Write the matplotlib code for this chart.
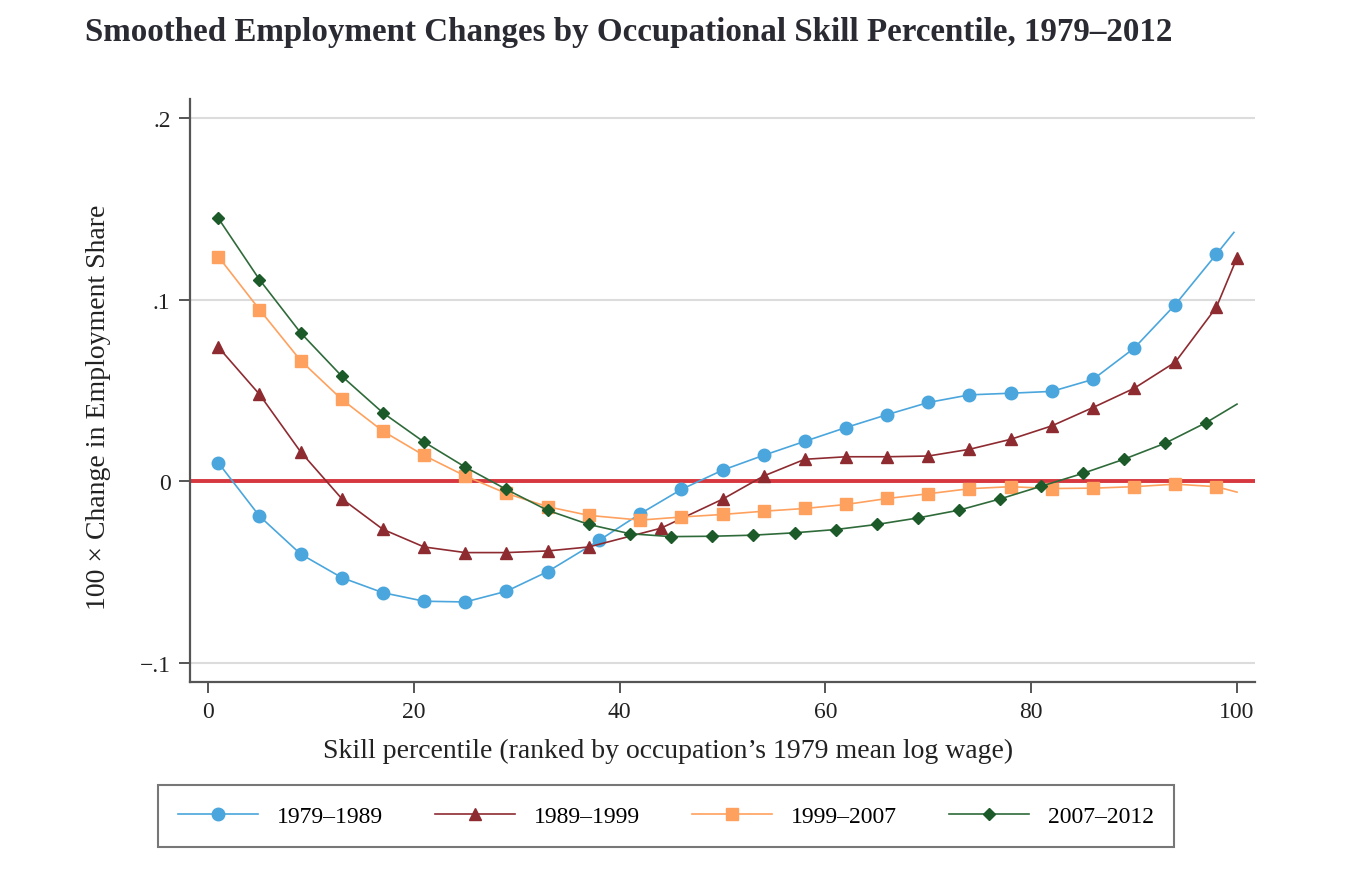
import numpy as np
import matplotlib
matplotlib.use('Agg')
from matplotlib import pyplot as plt

## data ##
x_7989 = [1, 5, 9, 13, 17, 21, 25, 29, 33, 38, 42, 46, 50, 54, 58, 62, 66, 70, 74, 78, 82, 86, 90, 94, 98, 99.7]
y_7989 = [0.0101, -0.0193, -0.0402, -0.0532, -0.0615, -0.0662, -0.0666, -0.0607, -0.0499,
          -0.0327, -0.0180, -0.0046, 0.0060, 0.0142, 0.0219, 0.0295, 0.0366, 0.0433, 0.0475,
          0.0484, 0.0494, 0.0560, 0.0732, 0.0972, 0.1250, 0.1370]

x_8999 = [1, 5, 9, 13, 17, 21, 25, 29, 33, 37, 44, 50, 54, 58, 62, 66, 70, 74, 78, 82, 86, 90, 94, 98, 100]
y_8999 = [0.0738, 0.0478, 0.0161, -0.0097, -0.0266, -0.0363, -0.0394, -0.0394, -0.0385, -0.0363,
          -0.0260, -0.0100, 0.0028, 0.0120, 0.0134, 0.0134, 0.0138, 0.0175, 0.0230, 0.0304,
          0.0405, 0.0511, 0.0655, 0.0958, 0.1230]

x_9907 = [1, 5, 9, 13, 17, 21, 25, 29, 33, 37, 42, 46, 50, 54, 58, 62, 66, 70, 74, 78, 82, 86, 90, 94, 98, 100]
y_9907 = [0.1237, 0.0945, 0.0664, 0.0450, 0.0275, 0.0141, 0.0028, -0.0068, -0.0141, -0.0189,
          -0.0215, -0.0198, -0.0184, -0.0166, -0.0151, -0.0129, -0.0096, -0.0070, -0.0042,
          -0.0031, -0.0041, -0.0039, -0.0031, -0.0017, -0.0031, -0.0061]

x_0712 = [1, 5, 9, 13, 17, 21, 25, 29, 33, 37, 41, 45, 49, 53, 57, 61, 65, 69, 73, 77, 81, 85, 89, 93, 97, 100]
y_0712 = [0.1448, 0.1110, 0.0817, 0.0578, 0.0376, 0.0215, 0.0077, -0.0046, -0.0161, -0.0239,
          -0.0290, -0.0306, -0.0304, -0.0298, -0.0285, -0.0267, -0.0239, -0.0203, -0.0160,
          -0.0098, -0.0028, 0.0042, 0.0120, 0.0208, 0.0322, 0.0424]

labels = ['1979\u20131989', '1989\u20131999', '1999\u20132007', '2007\u20132012']
yticks = [-0.1, 0, 0.1, 0.2]
ytick_labels = ['\u2212.1', '0', '.1', '.2']
xticks = [0, 20, 40, 60, 80, 100]

plt.rcParams['font.family'] = ['Liberation Serif', 'DejaVu Serif']

fig = plt.figure(figsize=(13.7, 8.7), dpi=100)
ax = fig.add_axes([190/1370, 1-683/870, (1255-190)/1370, (683-100)/870])

# gridlines + zero line
for yv in yticks:
    if yv != 0:
        ax.axhline(yv, color='#dcdcdc', lw=1.5, zorder=0)
ax.axhline(0, color='#d7373f', lw=2.8, zorder=1)

ax.plot(x_7989, y_7989, color='#4aa6dc', lw=1.2, marker='o', ms=9,
        markevery=slice(0, -1), label=labels[0], zorder=3)
ax.plot(x_8999, y_8999, color='#8e2b31', lw=1.2, marker='^', ms=8.5,
        label=labels[1], zorder=3)
ax.plot(x_9907, y_9907, color='#ffa15e', lw=1.2, marker='s', ms=8.5,
        markevery=slice(0, -1), label=labels[2], zorder=3)
ax.plot(x_0712, y_0712, color='#2f6b3a', lw=1.2, marker='D', ms=6.5,
        mfc='#1c5a29', mec='#1c5a29', markevery=slice(0, -1), label=labels[3], zorder=3)

ax.set_xlim(-1.75, 101.75)
ax.set_ylim(-0.1107, 0.2105)
ax.set_yticks(yticks)
ax.set_yticklabels(ytick_labels)
ax.set_xticks(xticks)

for s in ['top', 'right']:
    ax.spines[s].set_visible(False)
for s in ['left', 'bottom']:
    ax.spines[s].set_color('#555555')
    ax.spines[s].set_linewidth(1.6)
ax.tick_params(axis='both', direction='out', length=8, width=1.4, color='#555555',
               labelsize=17, labelcolor='#222222', pad=6)

ax.set_xlabel('Skill percentile (ranked by occupation\u2019s 1979 mean log wage)',
              fontsize=20, color='#222222')
ax.xaxis.set_label_coords(0.449, -0.095)
ax.set_ylabel('100 \u00d7 Change in Employment Share', fontsize=20, color='#222222')
ax.yaxis.set_label_coords(-0.074, 0.473)

fig.text(85/1370, 1-33/870, 'Smoothed Employment Changes by Occupational Skill Percentile, 1979\u20132012',
         fontsize=23.8, fontweight='bold', color='#2a2a33', va='center', ha='left')

leg = fig.legend(loc='center', bbox_to_anchor=(666/1370, 1-817/870), ncol=4, fontsize=17,
                 frameon=True, fancybox=False, edgecolor='#555555', handlelength=3.4,
                 columnspacing=2.2, borderpad=0.85, handletextpad=0.8, borderaxespad=0)
leg.get_frame().set_linewidth(1.5)

fig.savefig('out.png', dpi=100)
